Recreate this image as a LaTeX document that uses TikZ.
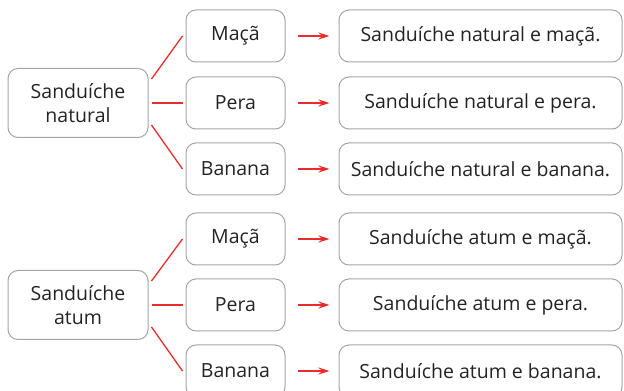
\documentclass[tikz,border=0pt]{standalone}
\usepackage{fontspec}
\setmainfont{Open Sans}
\usetikzlibrary{arrows.meta,positioning}
\definecolor{boxgray}{RGB}{165,165,165}
\definecolor{txtgray}{RGB}{35,35,35}
\definecolor{linered}{RGB}{232,45,45}

\begin{document}
\begin{tikzpicture}[x=1pt,y=1pt,
  box/.style={draw=boxgray,line width=1pt,rounded corners=10pt,text=txtgray,
    align=center,font=\fontsize{19.5}{24}\selectfont,inner sep=0pt},
  sandbox/.style={box,minimum width=140pt,minimum height=69pt},
  fruitbox/.style={box,minimum width=99pt,minimum height=52pt},
  resbox/.style={box,minimum width=283pt,minimum height=52pt},
  branch/.style={draw=linered,line width=1.3pt},
  pointer/.style={draw=linered,line width=1.5pt,-{Stealth[length=11pt,width=7pt]},
    shorten <=12pt,shorten >=9pt}]
\useasboundingbox (0,0) rectangle (624,391);
\clip (0,0) rectangle (624,391);
% sanduiche natural
\node[sandbox] (nat) at (78,288) {Sanduíche\\natural};
\node[fruitbox] (nmaca) at (235.5,355) {Maçã};
\node[fruitbox] (npera) at (235.5,288) {Pera};
\node[fruitbox] (nbanana) at (235.5,222) {Banana};
\node[resbox] (rnmaca) at (480.5,355) {Sanduíche natural e maçã.};
\node[resbox] (rnpera) at (480.5,288) {Sanduíche natural e pera.};
\node[resbox] (rnbanana) at (480.5,222) {Sanduíche natural e banana.};
% sanduiche atum
\node[sandbox] (atum) at (78,86) {Sanduíche\\atum};
\node[fruitbox] (amaca) at (235.5,152) {Maçã};
\node[fruitbox] (apera) at (235.5,86) {Pera};
\node[fruitbox] (abanana) at (235.5,20) {Banana};
\node[resbox] (ramaca) at (480.5,152) {Sanduíche atum e maçã.};
\node[resbox] (rapera) at (480.5,86) {Sanduíche atum e pera.};
\node[resbox] (rabanana) at (480.5,20) {Sanduíche atum e banana.};
% ramos
\foreach \src/\up/\mid/\low in {nat/nmaca/npera/nbanana, atum/amaca/apera/abanana} {
  \draw[branch] ([xshift=3pt,yshift=24pt]\src.east) -- ([xshift=-3pt]\up.west);
  \draw[branch] ([xshift=3pt]\src.east) -- ([xshift=-3pt]\mid.west);
  \draw[branch] ([xshift=3pt,yshift=-22pt]\src.east) -- ([xshift=-3pt]\low.west);
}
% setas
\foreach \f/\r in {nmaca/rnmaca, npera/rnpera, nbanana/rnbanana, amaca/ramaca, apera/rapera, abanana/rabanana}
  \draw[pointer] (\f.east) -- (\r.west);
\end{tikzpicture}
\end{document}
